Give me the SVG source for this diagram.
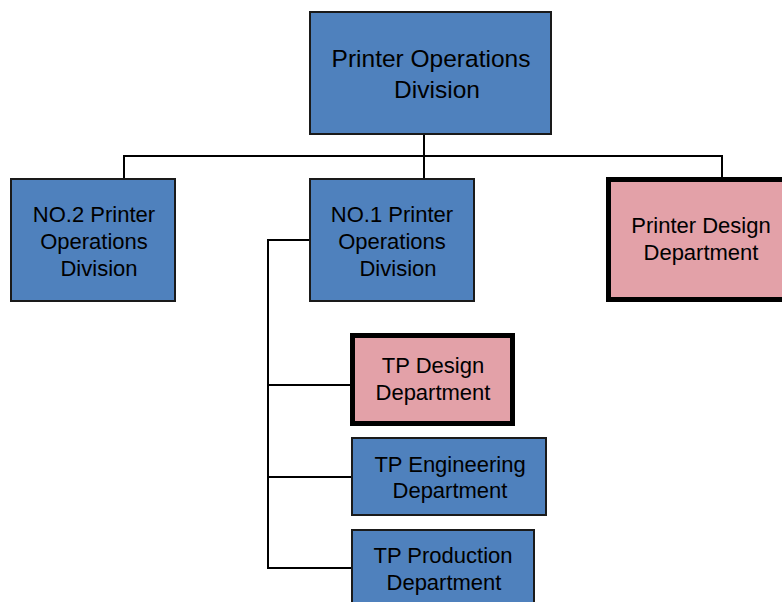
<svg xmlns="http://www.w3.org/2000/svg" width="782" height="602" viewBox="0 0 782 602">
<style>
.blue{fill:#4F81BD;stroke:#1a1a1a;stroke-width:2}
.pink{fill:#E3A1A8;stroke:#000;stroke-width:5}
.t{font-family:"Liberation Sans",Arial,sans-serif;font-size:22px;fill:#000;text-anchor:middle}
.big{font-size:24.5px}
.c{fill:none;stroke:#000;stroke-width:2}
</style>
<rect width="782" height="602" fill="#fff"/>
<g id="connectors">
<path class="c" d="M424 134 V179"/>
<path class="c" d="M124 179 V156 H722 V177"/>
<path class="c" d="M310 240 H268 V568 H352"/>
<path class="c" d="M268 385 H350"/>
<path class="c" d="M268 477 H352"/>
</g>
<g id="n_top">
<rect class="blue" x="310" y="12" width="241" height="122"/>
<text class="t big" x="431" y="67">Printer Operations</text>
<text class="t big" x="437" y="98">Division</text>
</g>
<g id="n_no2">
<rect class="blue" x="11" y="179" width="164" height="122"/>
<text class="t" x="94" y="222">NO.2 Printer</text>
<text class="t" x="94" y="249">Operations</text>
<text class="t" x="99" y="276">Division</text>
</g>
<g id="n_no1">
<rect class="blue" x="310" y="179" width="164" height="122"/>
<text class="t" x="392" y="222">NO.1 Printer</text>
<text class="t" x="392" y="249">Operations</text>
<text class="t" x="398" y="276">Division</text>
</g>
<g id="n_pdesign">
<rect class="pink" x="608.5" y="179.5" width="186" height="120"/>
<text class="t" x="701" y="233">Printer Design</text>
<text class="t" x="701" y="260">Department</text>
</g>
<g id="n_tpdesign">
<rect class="pink" x="352.5" y="335.5" width="160" height="88"/>
<text class="t" x="433" y="373">TP Design</text>
<text class="t" x="433" y="400">Department</text>
</g>
<g id="n_tpeng">
<rect class="blue" x="352" y="438" width="194" height="77"/>
<text class="t" x="450" y="472">TP Engineering</text>
<text class="t" x="450" y="498">Department</text>
</g>
<g id="n_tpprod">
<rect class="blue" x="352" y="530" width="182" height="80"/>
<text class="t" x="443" y="563">TP Production</text>
<text class="t" x="444" y="590">Department</text>
</g>
</svg>
